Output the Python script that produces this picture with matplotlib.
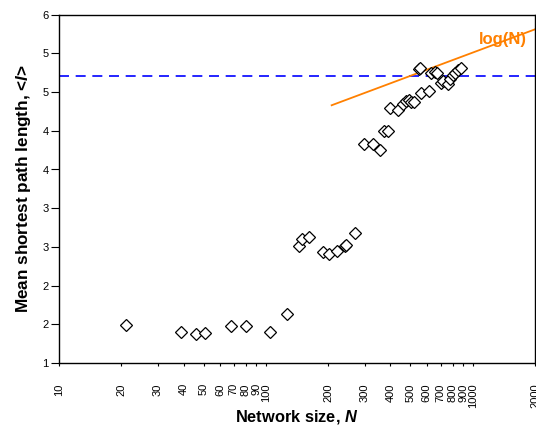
import numpy as np
import matplotlib
matplotlib.use("Agg")
import matplotlib.pyplot as plt

plt.rcParams['font.family'] = ['Liberation Sans', 'DejaVu Sans']
plt.rcParams['mathtext.fontset'] = 'custom'
plt.rcParams['mathtext.it'] = 'Liberation Sans:bold:italic'
plt.rcParams['mathtext.rm'] = 'Liberation Sans:bold'

# Data
network_size = [21, 38.8, 45.7, 50.7, 67.8, 80, 104.5, 126.8,
                145, 150, 161, 188, 202, 220, 241, 244, 269,
                297, 330, 355, 371, 390, 397, 436, 460, 475, 490, 501, 518,
                548, 556, 565, 615, 631, 660, 671, 700, 718, 760, 774,
                804, 819, 849, 882]
path_length = [1.54, 1.45, 1.41, 1.435, 1.535, 1.535, 1.445, 1.71,
               2.68, 2.78, 2.81, 2.60, 2.56, 2.61, 2.68, 2.69, 2.86,
               4.14, 4.15, 4.06, 4.33, 4.33, 4.66, 4.63, 4.72, 4.76, 4.77, 4.75, 4.75,
               5.22, 5.24, 4.87, 4.91, 5.17, 5.18, 5.16, 5.02, 5.05, 5.01, 5.07,
               5.13, 5.16, 5.21, 5.23]

log_line_N = [208, 2000]
log_line_L = [4.70, 5.79]
ref_level = 5.12

x_ticks = [10, 20, 30, 40, 50, 60, 70, 80, 90, 100,
           200, 300, 400, 500, 600, 700, 800, 900, 1000, 2000]
x_tick_labels = [str(t) for t in x_ticks]
x_long_ticks = [10, 100, 1000]
y_ticks = list(np.linspace(1, 6, 10))
y_tick_labels = ['1', '2', '2', '3', '3', '4', '4', '5', '5', '6']

fig = plt.figure(figsize=(5.36, 4.28), dpi=100)
ax = fig.add_axes([59/536, 1-363/428, (535-59)/536, (363-14.7)/428])

ax.set_xscale('log')
ax.set_xlim(10, 2000)
ax.set_ylim(1, 6)

ax.axhline(ref_level, color='#0000ff', lw=1.2, dashes=(6, 4))
ax.plot(log_line_N, log_line_L, color='#ff8000', lw=1.3, clip_on=False)
ax.text(1075, 5.64, 'log(N)', color='#ff8000', fontsize=12, fontweight='bold',
        ha='left', va='center')

ax.plot(network_size, path_length, linestyle='none', marker='D', markersize=6.3,
        markerfacecolor='white', markeredgecolor='black', markeredgewidth=0.9)

ax.set_xticks(x_ticks)
ax.set_xticklabels(x_tick_labels, rotation=90, fontsize=8)
ax.set_xticks(x_long_ticks, minor=True)
ax.set_xticklabels([], minor=True)
ax.tick_params(axis='x', which='major', direction='out', length=2.5, width=0.8, pad=12)
ax.tick_params(axis='x', which='minor', direction='out', length=5, width=0.8)

ax.set_yticks(y_ticks)
ax.set_yticklabels(y_tick_labels, fontsize=8)
ax.tick_params(axis='y', which='major', direction='out', length=5.5, width=0.8, pad=2)
ax.tick_params(axis='y', which='minor', left=False)

for s in ax.spines.values():
    s.set_linewidth(1.0)

ax.set_xlabel('Network size, $N$', fontsize=11.8, fontweight='bold', labelpad=0)
ax.set_ylabel('Mean shortest path length, <$l$>', fontsize=12.3, fontweight='bold', labelpad=7)

fig.savefig('out.png', dpi=100)
